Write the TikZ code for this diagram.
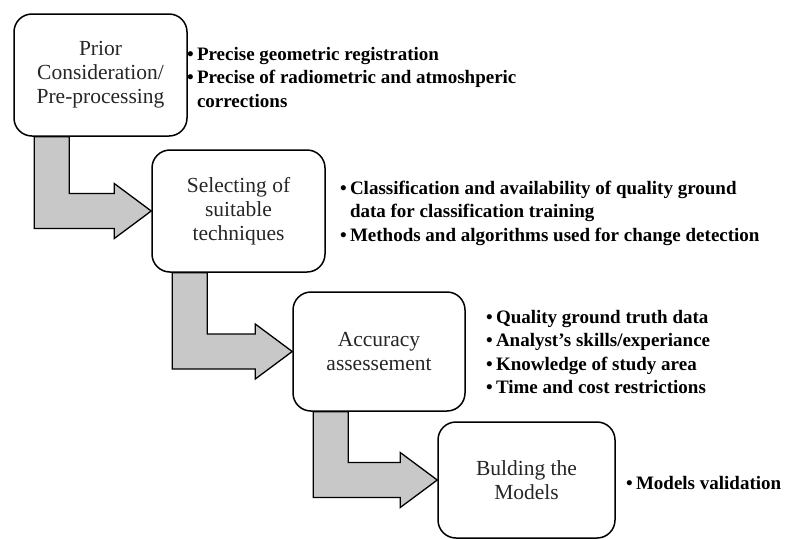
\documentclass[tikz,border=0pt]{standalone}
\usepackage{fontspec}
\setmainfont{Liberation Serif}
\usetikzlibrary{calc}
\definecolor{arrowgray}{RGB}{200,200,200}
\tikzset{
  stage/.style={draw, fill=white, line width=1.5pt, rounded corners=18pt,
    minimum width=173pt, minimum height=122pt, align=center, inner sep=2pt,
    text=black!85, font=\fontsize{21.5}{24}\selectfont},
  notes/.style={anchor=west, align=left, inner sep=0pt,
    font=\fontsize{19}{23.5}\selectfont\bfseries},
  bendbox/.style={fill=arrowgray, draw, line width=1.3pt, line join=miter}
}
% bent block arrow: down from below #1, then right into #2
\newcommand{\bendarrow}[2]{%
  \coordinate (s1) at ([xshift=21pt]#1.south west);
  \coordinate (s2) at ([xshift=56pt]#1.south west);
  \filldraw[bendbox] (s2) |- ($(#2.west)+(-37,-17.5)$) -- ++(0,-10) -- (#2.west)
    -- ($(#2.west)+(-37,27.5)$) -- ++(0,-10) -| (s1) -- cycle;
}
\begin{document}
\begin{tikzpicture}[x=1pt,y=-1pt]
\useasboundingbox (0,0) rectangle (792,539);

\node[stage] (prior) at (100.5,75) {Prior\\Consideration/\\Pre-processing};
\node[stage] (select) at (238.5,211) {Selecting of\\suitable\\techniques};
\node[stage, minimum width=172pt, minimum height=119pt] (accur) at (379,351.5) {Accuracy\\assessement};
\node[stage, minimum width=177pt, minimum height=116pt] (build) at (526.5,480) {Bulding the\\Models};

\bendarrow{prior}{select}
\bendarrow{select}{accur}
\bendarrow{accur}{build}

\node[notes] (priorNotes) at (187,77) {\textbullet\,Precise geometric registration\\
  \textbullet\,Precise of radiometric and atmoshperic\\
  \phantom{\textbullet\,}corrections};
\node[notes] (selectNotes) at (340,213) {\textbullet\,Classification and availability of quality ground\\
  \phantom{\textbullet\,}data for classification training\\
  \textbullet\,Methods and algorithms used for change detection};
\node[notes] (accurNotes) at (486,352) {\textbullet\,Quality ground truth data\\
  \textbullet\,Analyst's skills/experiance\\
  \textbullet\,Knowledge of study area\\
  \textbullet\,Time and cost restrictions};
\node[notes] (buildNotes) at (626,483) {\textbullet\,Models validation};
\end{tikzpicture}
\end{document}
